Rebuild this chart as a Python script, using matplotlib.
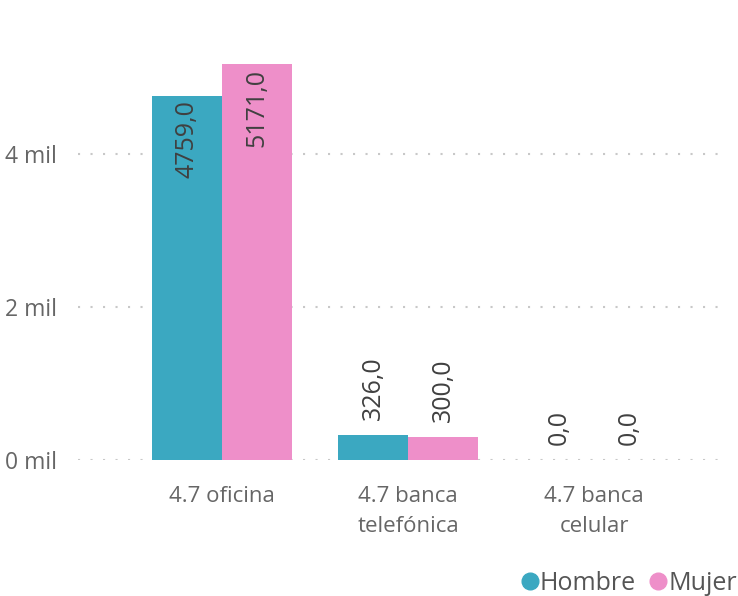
import matplotlib.pyplot as plt
import numpy as np
from matplotlib.lines import Line2D

# --- Data
categories = ["4.7 oficina", "4.7 banca\ntelefónica", "4.7 banca\ncelular"]
hombre = [4759.0, 326.0, 0.0]
mujer = [5171.0, 300.0, 0.0]
yticks = [0, 2000, 4000]
ytick_labels = ["0 mil", "2 mil", "4 mil"]

c_hombre = "#3BA8C1"
c_mujer = "#EE8FC9"
txt_grey = "#666666"
lbl_dark = "#404040"

plt.rcParams['font.family'] = ['Open Sans', 'DejaVu Sans']

fig = plt.figure(figsize=(7.38, 5.96), dpi=100)
ax = fig.add_axes([78 / 738, 1 - 460 / 596, 650 / 738, 440 / 596])

x = np.arange(len(categories))
width = 70 / 186

b1 = ax.bar(x - width / 2, hombre, width, color=c_hombre, zorder=3)
b2 = ax.bar(x + width / 2, mujer, width, color=c_mujer, zorder=3)

# --- Data labels: inside end for tall bars, outside end for short ones
for bars, vals in ((b1, hombre), (b2, mujer)):
    for rect, v in zip(bars, vals):
        cx = rect.get_x() + rect.get_width() / 2
        txt = f"{v:.1f}".replace(".", ",")
        if v > 1000:
            ax.annotate(txt, (cx, v), xytext=(0, -3), textcoords="offset points",
                        rotation=90, ha="center", va="top", fontsize=18,
                        color=lbl_dark, zorder=4)
        else:
            ax.annotate(txt, (cx, v), xytext=(0, 11), textcoords="offset points",
                        rotation=90, ha="center", va="bottom", fontsize=18,
                        color=lbl_dark, zorder=4)

ax.set_xlim(-144 / 186, (728 - 222) / 186)
ax.set_ylim(0, 440 / (306 / 4000))

ax.set_yticks(yticks)
ax.set_yticklabels(ytick_labels, fontsize=16.5, color=txt_grey)
ax.set_xticks(x)
ax.set_xticklabels(categories, fontsize=16, color=txt_grey, linespacing=1.55)
ax.tick_params(axis="y", length=0, pad=15)
ax.tick_params(axis="x", length=0, pad=19)

ax.grid(axis="y", color="#c8c8c8", linestyle=(0, (1, 5)), linewidth=1.5, zorder=0)
for s in ax.spines.values():
    s.set_visible(False)

# --- Legend
handles = [
    Line2D([], [], marker="o", linestyle="", markersize=12, color=c_hombre, label="Hombre"),
    Line2D([], [], marker="o", linestyle="", markersize=12, color=c_mujer, label="Mujer"),
]
leg = fig.legend(handles=handles, loc="lower right", bbox_to_anchor=(1.029, -0.037), ncol=2,
                 frameon=False, fontsize=18, handletextpad=0.0, columnspacing=0.5,
                 handlelength=0.8)
for t in leg.get_texts():
    t.set_color("#555555")

plt.savefig("out.png", dpi=100)
plt.close()
